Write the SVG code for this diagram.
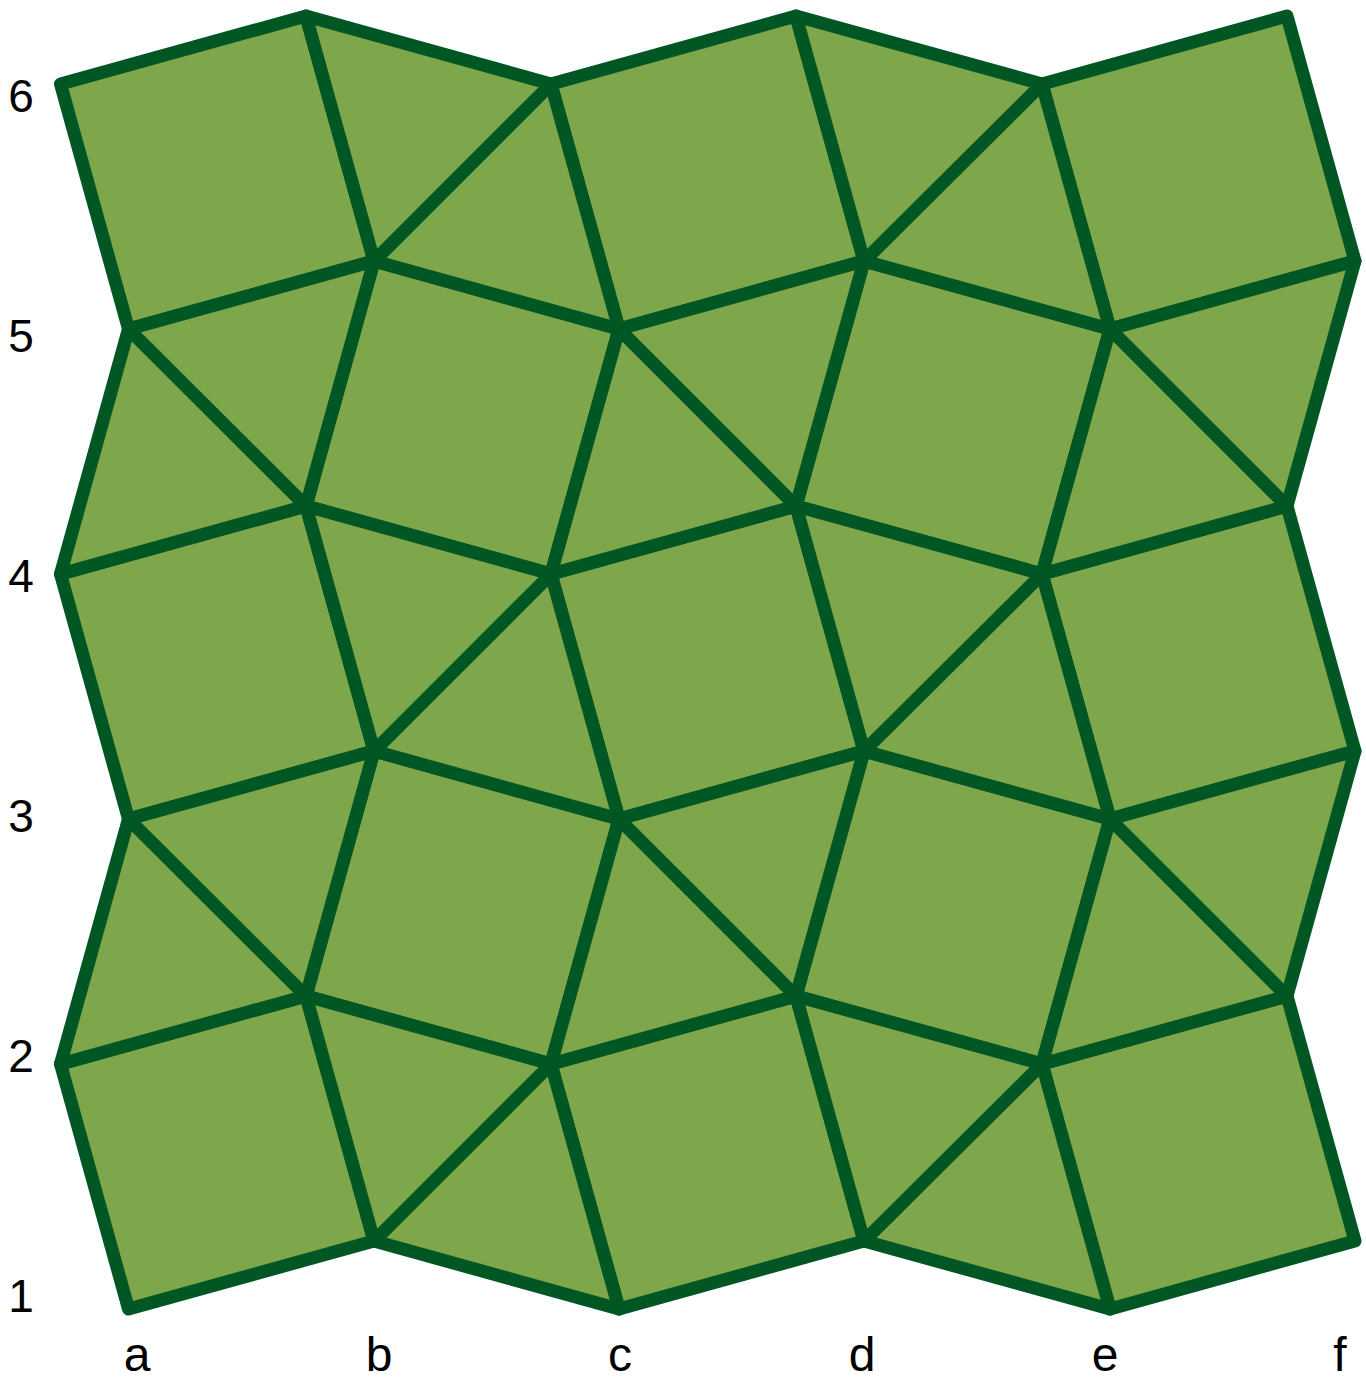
<svg xmlns="http://www.w3.org/2000/svg" width="1366" height="1381" viewBox="0 0 1366 1381">
<style>
.t{fill:#7ea64a;stroke:#005724;stroke-width:13;stroke-linejoin:round}
.lb{font-family:"Liberation Sans",Arial,sans-serif;font-size:46px;fill:#000;text-anchor:middle}
.lc{font-size:48px}
</style>
<rect width="1366" height="1381" fill="#ffffff"/>
<g id="squares">
<polygon class="t" points="128.5,1309 374,1241 306,996 60.5,1064"/>
<polygon class="t" points="619,1309 864,1241 796,996 551,1064"/>
<polygon class="t" points="1110,1309 1355,1241 1287,996 1042,1064"/>
<polygon class="t" points="306,996 551,1064 619,819 374,751"/>
<polygon class="t" points="796,996 1042,1064 1110,819 864,751"/>
<polygon class="t" points="128.5,819 374,751 306,506 60.5,574"/>
<polygon class="t" points="619,819 864,751 796,506 551,574"/>
<polygon class="t" points="1110,819 1355,751 1287,506 1042,574"/>
<polygon class="t" points="306,506 551,574 619,329 374,261"/>
<polygon class="t" points="796,506 1042,574 1110,329 864,261"/>
<polygon class="t" points="128.5,329 374,261 306,16 60.5,84"/>
<polygon class="t" points="619,329 864,261 796,16 551,84"/>
<polygon class="t" points="1110,329 1355,261 1287,16 1042,84"/>
</g>
<g id="triangles">
<polygon class="t" points="374,1241 619,1309 551,1064"/>
<polygon class="t" points="374,1241 551,1064 306,996"/>
<polygon class="t" points="864,1241 1110,1309 1042,1064"/>
<polygon class="t" points="864,1241 1042,1064 796,996"/>
<polygon class="t" points="374,751 619,819 551,574"/>
<polygon class="t" points="374,751 551,574 306,506"/>
<polygon class="t" points="864,751 1110,819 1042,574"/>
<polygon class="t" points="864,751 1042,574 796,506"/>
<polygon class="t" points="374,261 619,329 551,84"/>
<polygon class="t" points="374,261 551,84 306,16"/>
<polygon class="t" points="864,261 1110,329 1042,84"/>
<polygon class="t" points="864,261 1042,84 796,16"/>
<polygon class="t" points="60.5,1064 306,996 128.5,819"/>
<polygon class="t" points="306,996 374,751 128.5,819"/>
<polygon class="t" points="551,1064 796,996 619,819"/>
<polygon class="t" points="796,996 864,751 619,819"/>
<polygon class="t" points="1042,1064 1287,996 1110,819"/>
<polygon class="t" points="1287,996 1355,751 1110,819"/>
<polygon class="t" points="60.5,574 306,506 128.5,329"/>
<polygon class="t" points="306,506 374,261 128.5,329"/>
<polygon class="t" points="551,574 796,506 619,329"/>
<polygon class="t" points="796,506 864,261 619,329"/>
<polygon class="t" points="1042,574 1287,506 1110,329"/>
<polygon class="t" points="1287,506 1355,261 1110,329"/>
</g>
<g id="row-labels">
<text class="lb" x="21" y="1312">1</text>
<text class="lb" x="21" y="1072">2</text>
<text class="lb" x="21" y="832">3</text>
<text class="lb" x="21" y="592">4</text>
<text class="lb" x="21" y="352">5</text>
<text class="lb" x="21" y="112">6</text>
</g>
<g id="col-labels">
<text class="lb lc" x="137" y="1371">a</text>
<text class="lb lc" x="379" y="1371">b</text>
<text class="lb lc" x="620" y="1371">c</text>
<text class="lb lc" x="862" y="1371">d</text>
<text class="lb lc" x="1105" y="1371">e</text>
<text class="lb lc" x="1340" y="1371">f</text>
</g>
</svg>
